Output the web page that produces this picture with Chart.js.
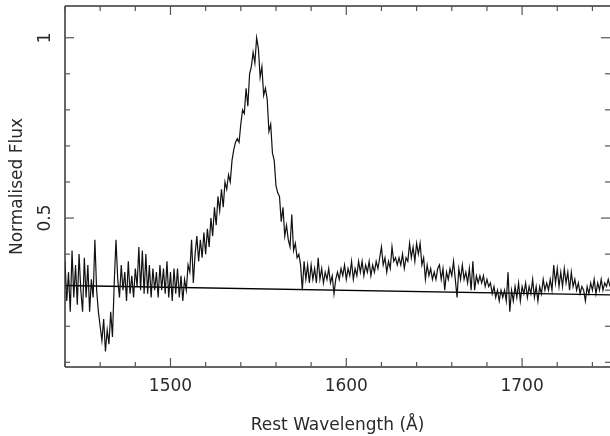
<!DOCTYPE html>
<html>
<head>
<meta charset="utf-8">
<script src="https://cdn.jsdelivr.net/npm/chart.js@4/dist/chart.umd.min.js"></script>
<style>
  html, body { margin: 0; padding: 0; background: #fff; }
  #wrap { width: 610px; height: 436px; }
</style>
</head>
<body>
<div id="wrap"><canvas id="spec" width="610" height="436"></canvas></div>
<script>
// rest wavelength grid (Angstrom)
const wavelength = [
  1440,1441,1442,1443,1444,1445,1446,1447,1448,1449,1450,1451,1452,1453,1454,1455,1456,1457,1458,1459,
  1460,1461,1462,1463,1464,1465,1466,1467,1468,1469,1470,1471,1472,1473,1474,1475,1476,1477,1478,1479,
  1480,1481,1482,1483,1484,1485,1486,1487,1488,1489,1490,1491,1492,1493,1494,1495,1496,1497,1498,1499,
  1500,1501,1502,1503,1504,1505,1506,1507,1508,1509,1510,1511,1512,1513,1514,1515,1516,1517,1518,1519,
  1520,1521,1522,1523,1524,1525,1526,1527,1528,1529,1530,1531,1532,1533,1534,1535,1536,1537,1538,1539,
  1540,1541,1542,1543,1544,1545,1546,1547,1548,1549,1550,1551,1552,1553,1554,1555,1556,1557,1558,1559,
  1560,1561,1562,1563,1564,1565,1566,1567,1568,1569,1570,1571,1572,1573,1574,1575,1576,1577,1578,1579,
  1580,1581,1582,1583,1584,1585,1586,1587,1588,1589,1590,1591,1592,1593,1594,1595,1596,1597,1598,1599,
  1600,1601,1602,1603,1604,1605,1606,1607,1608,1609,1610,1611,1612,1613,1614,1615,1616,1617,1618,1619,
  1620,1621,1622,1623,1624,1625,1626,1627,1628,1629,1630,1631,1632,1633,1634,1635,1636,1637,1638,1639,
  1640,1641,1642,1643,1644,1645,1646,1647,1648,1649,1650,1651,1652,1653,1654,1655,1656,1657,1658,1659,
  1660,1661,1662,1663,1664,1665,1666,1667,1668,1669,1670,1671,1672,1673,1674,1675,1676,1677,1678,1679,
  1680,1681,1682,1683,1684,1685,1686,1687,1688,1689,1690,1691,1692,1693,1694,1695,1696,1697,1698,1699,
  1700,1701,1702,1703,1704,1705,1706,1707,1708,1709,1710,1711,1712,1713,1714,1715,1716,1717,1718,1719,
  1720,1721,1722,1723,1724,1725,1726,1727,1728,1729,1730,1731,1732,1733,1734,1735,1736,1737,1738,1739,
  1740,1741,1742,1743,1744,1745,1746,1747,1748,1749,1750
]

// normalised flux
const flux = [
  0.38,0.27,0.35,0.24,0.41,0.28,0.37,0.26,0.40,0.30, 0.24,0.39,0.28,0.37,0.24,0.33,0.28,0.44,0.30,0.24,
  0.20,0.16,0.22,0.13,0.19,0.15,0.24,0.17,0.32,0.44, 0.33,0.28,0.37,0.30,0.35,0.27,0.38,0.29,0.34,0.28,
  0.36,0.31,0.42,0.30,0.41,0.29,0.40,0.29,0.37,0.28, 0.36,0.30,0.35,0.28,0.37,0.30,0.36,0.29,0.38,0.28,
  0.35,0.27,0.36,0.29,0.36,0.28,0.34,0.27,0.33,0.30, 0.37,0.35,0.44,0.32,0.40,0.45,0.38,0.44,0.39,0.46,
  0.40,0.47,0.42,0.50,0.45,0.53,0.48,0.56,0.52,0.58, 0.53,0.60,0.58,0.62,0.60,0.66,0.69,0.71,0.72,0.71,
  0.76,0.80,0.79,0.86,0.81,0.90,0.92,0.96,0.93,1.00, 0.97,0.89,0.92,0.84,0.86,0.83,0.74,0.76,0.68,0.66,
  0.59,0.57,0.56,0.49,0.53,0.45,0.48,0.44,0.42,0.51, 0.41,0.43,0.39,0.40,0.37,0.30,0.38,0.33,0.37,0.32,
  0.37,0.33,0.36,0.32,0.39,0.33,0.36,0.32,0.35,0.33, 0.36,0.32,0.34,0.29,0.33,0.35,0.33,0.36,0.34,0.37,
  0.33,0.36,0.34,0.38,0.33,0.36,0.34,0.38,0.35,0.38, 0.34,0.37,0.35,0.38,0.34,0.37,0.35,0.38,0.36,0.39,
  0.42,0.37,0.39,0.35,0.38,0.36,0.42,0.38,0.39,0.37, 0.39,0.37,0.40,0.36,0.39,0.38,0.43,0.39,0.42,0.38,
  0.43,0.40,0.43,0.37,0.39,0.33,0.37,0.34,0.36,0.33, 0.35,0.33,0.36,0.37,0.33,0.36,0.30,0.35,0.33,0.36,
  0.34,0.38,0.33,0.28,0.36,0.33,0.37,0.33,0.35,0.32, 0.36,0.30,0.38,0.30,0.34,0.32,0.34,0.32,0.34,0.31,
  0.33,0.31,0.32,0.29,0.31,0.28,0.30,0.27,0.30,0.28, 0.30,0.27,0.35,0.24,0.30,0.27,0.31,0.28,0.32,0.27,
  0.31,0.29,0.32,0.28,0.31,0.29,0.33,0.28,0.31,0.27, 0.31,0.29,0.33,0.30,0.32,0.30,0.33,0.30,0.37,0.32,
  0.36,0.31,0.35,0.31,0.36,0.32,0.35,0.30,0.35,0.31, 0.33,0.30,0.32,0.29,0.31,0.30,0.27,0.31,0.29,0.32,
  0.30,0.33,0.29,0.32,0.30,0.33,0.30,0.32,0.31,0.33, 0.31
]

// fitted continuum (two end points)
const contWave = [1440, 1750]
const contFlux = [0.313, 0.287]

// axis ticks
const xLabelTicks = [1500, 1600, 1700]
const xMinorTicks = [1440,1460,1480,1520,1540,1560,1580,1620,1640,1660,1680,1720,1740]
const yLabelTicks = [0.5, 1]
const yMinorTicks = [0.1,0.2,0.3,0.4,0.6,0.7,0.8,0.9]

const FONT = 'DejaVu Sans'
const INK = '#2a2a2a'

// inward ticks and frame, the way the old plot package draws them
const frameTicks = {
    id: 'frameTicks',
    afterDatasetsDraw(chart) {
        const {ctx, chartArea: a, scales: {x, y}} = chart
        const line = (x1, y1, x2, y2) => {
            ctx.beginPath(); ctx.moveTo(x1, y1); ctx.lineTo(x2, y2); ctx.stroke()
        }
        ctx.save()
        ctx.strokeStyle = '#333'
        ctx.lineWidth = 1.5
        line(a.left, a.top, a.right, a.top)
        line(a.left, a.top, a.left, a.bottom)
        line(a.left, a.bottom, a.right, a.bottom)

        ctx.strokeStyle = '#555'
        ctx.lineWidth = 1.2
        xMinorTicks.forEach(v => {
            const px = x.getPixelForValue(v)
            line(px, a.bottom, px, a.bottom - 5)
            line(px, a.top, px, a.top + 5)
        })
        xLabelTicks.forEach(v => {
            const px = x.getPixelForValue(v)
            line(px, a.bottom, px, a.bottom - 9)
            line(px, a.top, px, a.top + 9)
        })
        yMinorTicks.forEach(v => {
            const py = y.getPixelForValue(v)
            line(a.left, py, a.left + 5, py)
            line(a.right, py, a.right - 5, py)
        })
        yLabelTicks.forEach(v => {
            const py = y.getPixelForValue(v)
            line(a.left, py, a.left + 9, py)
            line(a.right, py, a.right - 9, py)
        })
        ctx.restore()
    }
}

// keep the plot box where the reference has it
function noPad(s) {
    s.paddingTop = 0
    s.paddingBottom = 0
    s.paddingLeft = 0
    s.paddingRight = 0
}

const ctx = document.getElementById('spec').getContext('2d')
new Chart(ctx, {
    type: 'line',
    data: {
        datasets: [
            {
                data: wavelength.map((w, i) => ({x: w, y: flux[i]})),
                borderColor: '#111',
                borderWidth: 1.2,
                pointRadius: 0,
                tension: 0
            },
            {
                data: contWave.map((w, i) => ({x: w, y: contFlux[i]})),
                borderColor: '#000',
                borderWidth: 1.4,
                pointRadius: 0
            }
        ]
    },
    options: {
        responsive: false,
        animation: false,
        events: [],
        layout: {padding: {left: 0, right: 0, top: 6, bottom: 0}},
        plugins: {legend: {display: false}, tooltip: {enabled: false}},
        scales: {
            x: {
                type: 'linear',
                min: 1440,
                max: 1750,
                afterBuildTicks: s => { s.ticks = xLabelTicks.map(v => ({value: v})) },
                afterFit: s => { s.height = 69; noPad(s) },
                grid: {display: false},
                border: {display: false},
                ticks: {
                    color: INK,
                    font: {family: FONT, size: 17},
                    padding: 1,
                    maxRotation: 0,
                    callback: v => String(v)
                },
                title: {
                    display: true,
                    text: 'Rest Wavelength (Å)',
                    color: INK,
                    font: {family: FONT, size: 17},
                    padding: {top: 0, bottom: 0}
                }
            },
            y: {
                type: 'linear',
                min: 0.087,
                max: 1.088,
                afterBuildTicks: s => { s.ticks = yLabelTicks.map(v => ({value: v})) },
                afterFit: s => { s.width = 65; noPad(s) },
                grid: {display: false},
                border: {display: false},
                ticks: {
                    color: INK,
                    font: {family: FONT, size: 17},
                    minRotation: 90,
                    maxRotation: 90,
                    crossAlign: 'center',
                    padding: -2,
                    callback: v => String(v)
                },
                title: {
                    display: true,
                    text: 'Normalised Flux',
                    color: INK,
                    font: {family: FONT, size: 17},
                    padding: {top: 7, bottom: 0}
                }
            }
        }
    },
    plugins: [frameTicks]
})
</script>
</body>
</html>
